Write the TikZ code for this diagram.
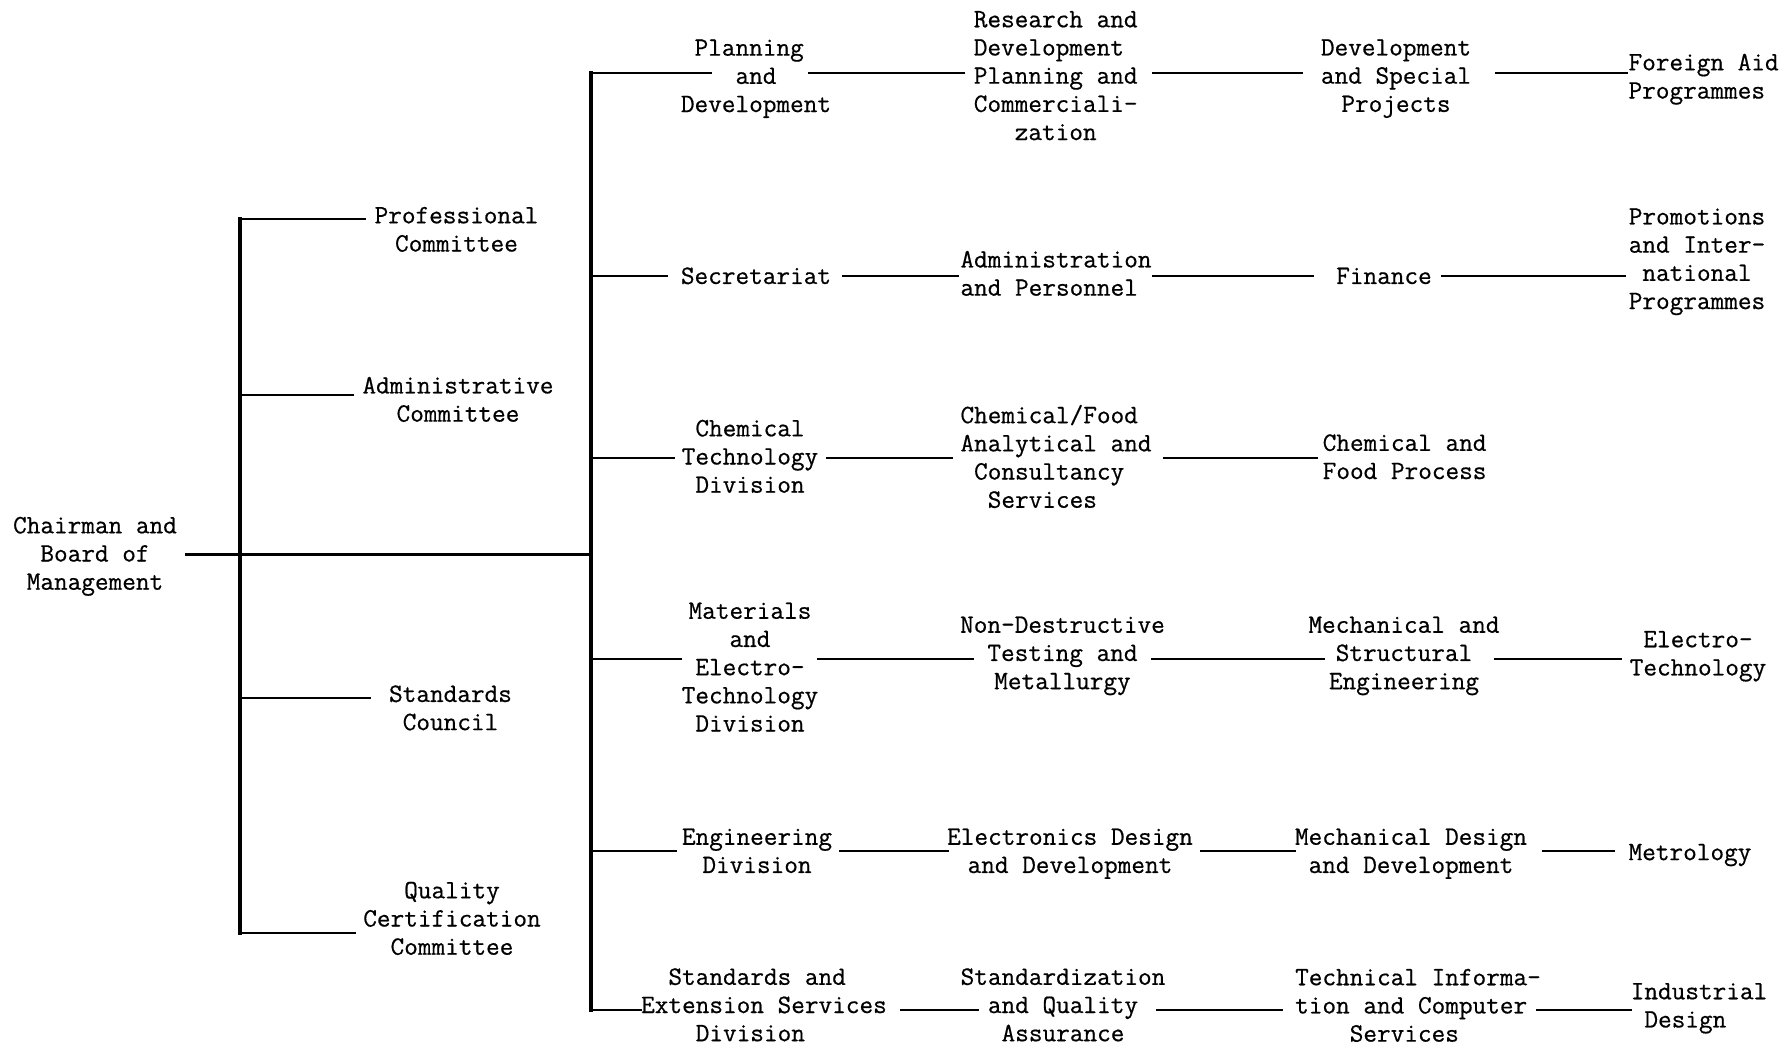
\documentclass[tikz,border=0pt]{standalone}
\usepackage{fontspec}
\newfontfamily\typewriter{Latin Modern Mono}[RawFeature={embolden=0.6}]
\usetikzlibrary{calc}
\begin{document}
\begin{tikzpicture}[x=1pt,y=-1pt,
  unit/.style={font=\typewriter\fontsize{26.5}{28.2}\selectfont, inner sep=0pt,
    align=center, yshift=-4.5pt,
    execute at begin node=\strut, execute at end node=\strut},
  unitl/.style={unit, align=left},
  link/.style={line width=2.4pt, line cap=rect},
  bar/.style={line width=3.2pt, line cap=rect}]
\useasboundingbox (0,0) rectangle (1789,1044);

% junctions on the two vertical bars
\coordinate (lb1) at (240,219);
\coordinate (lb2) at (240,933);
\coordinate (rc)  at (591,554.5);
\coordinate (r1)  at (591,73);
\coordinate (r2)  at (591,276);
\coordinate (r3)  at (591,458);
\coordinate (r4)  at (591,659);
\coordinate (r5)  at (591,851);
\coordinate (r6)  at (591,1010);

% board and committees
\node[unit] (chair) at (95,553) {Chairman and\\Board of\\Management};
\node[unit] (prof)  at (456.5,229) {Professional\\Committee};
\node[unit] (admin) at (458,399) {Administrative\\Committee};
\node[unit] (stdc)  at (450.5,707.5) {Standards\\Council};
\node[unit] (qcc)   at (452,918) {Quality\\Certification\\Committee};

% row 1
\node[unitl] (pd)  at (756,75.5) {\hphantom{x}Planning\\\hphantom{xxxx}and\\Development};
\node[unitl] (rd)  at (1055.7,75.3) {Research and\\Development\\Planning and\\Commerciali-\\\hphantom{xxx}zation};
\node[unit]  (dsp) at (1396,75.3) {Development\\and Special\\Projects};
\node[unitl] (fap) at (1703.6,75.9) {Foreign Aid\\Programmes};

% row 2
\node[unit]  (sec) at (756,273.8) {Secretariat};
\node[unitl] (ap)  at (1056,273) {Administration\\and Personnel};
\node[unit]  (fin) at (1384,273.8) {Finance};
\node[unit]  (pip) at (1697,258.4) {Promotions\\and Inter-\\national\\Programmes};

% row 3
\node[unit]  (ctd) at (750,456) {Chemical\\Technology\\Division};
\node[unitl] (cfa) at (1056,456) {Chemical/Food\\Analytical and\\\hphantom{x}Consultancy\\\hphantom{xx}Services};
\node[unit]  (cfp) at (1404.6,456.4) {Chemical and\\Food Process};

% row 4
\node[unit] (met) at (750,666.8) {Materials\\and\\Electro-\\Technology\\Division};
\node[unit] (ndt) at (1062.5,652.6) {Non-Destructive\\Testing and\\Metallurgy};
\node[unit] (mse) at (1404,652.6) {Mechanical and\\Structural\\Engineering};
\node[unit] (et)  at (1698,653) {Electro-\\Technology};

% row 5
\node[unit] (eng)  at (757,850.5) {Engineering\\Division};
\node[unit] (edd)  at (1070,850.5) {Electronics Design\\and Development};
\node[unit] (mdd)  at (1411,850.5) {Mechanical Design\\and Development};
\node[unit] (metr) at (1690,850) {Metrology};

% row 6
\node[unitl] (sesd) at (764,1004.5) {\hphantom{xx}Standards and\\Extension Services\\\hphantom{xxxx}Division};
\node[unit]  (sqa)  at (1063,1004.5) {Standardization\\and Quality\\Assurance};
\node[unitl] (tics) at (1418,1005) {Technical Informa-\\tion and Computer\\\hphantom{xxxx}Services};
\node[unitl] (id)   at (1699,1005) {Industrial\\\hphantom{x}Design};

% vertical bars
\draw[bar] (lb1) -- (lb2);
\draw[bar] (r1) -- (r6);

% board to the division bar, committees off the left bar
\draw[link] ([xshift=9.5pt,yshift=3pt]chair.east) -- (rc);
\draw[link] (lb1) -- ([xshift=-10pt]prof.west |- lb1);
\draw[link] ([yshift=8.7pt]admin.west -| lb1) -- ([xshift=-9.5pt,yshift=8.7pt]admin.west);
\draw[link] ([yshift=14pt]stdc.west -| lb1) -- ([xshift=-19.5pt,yshift=14pt]stdc.west);
\draw[link] (lb2) -- ([xshift=-8pt]qcc.west |- lb2);

% row 1
\draw[link] (r1) -- ([xshift=30pt]pd.west |- r1);
\draw[link] ([xshift=-22.5pt]pd.east |- r1) -- ([xshift=-10pt]rd.west |- r1);
\draw[link] ([xshift=15.6pt]rd.east |- r1) -- ([xshift=-19pt]dsp.west |- r1);
\draw[link] ([xshift=24.5pt]dsp.east |- r1) -- ([xshift=-2pt]fap.west |- r1);

% row 2
\draw[link] (r2) -- ([xshift=-13.5pt]sec.west |- r2);
\draw[link] ([xshift=11.5pt]sec.east |- r2) -- ([xshift=-2.5pt]ap.west |- r2);
\draw[link] ([xshift=1pt]ap.east |- r2) -- ([xshift=-23pt]fin.west |- r2);
\draw[link] ([xshift=10pt]fin.east |- r2) -- ([xshift=-4pt]pip.west |- r2);

% row 3
\draw[link] (r3) -- ([xshift=-7.5pt]ctd.west |- r3);
\draw[link] ([xshift=8.5pt]ctd.east |- r3) -- ([xshift=-8.5pt]cfa.west |- r3);
\draw[link] ([xshift=12.5pt]cfa.east |- r3) -- ([xshift=-5.5pt]cfp.west |- r3);

% row 4
\draw[link] (r4) -- ([xshift=-1pt]met.west |- r4);
\draw[link] (met.east |- r4) -- ([xshift=13pt]ndt.west |- r4);
\draw[link] ([xshift=-12.4pt]ndt.east |- r4) -- ([xshift=15.5pt]mse.west |- r4);
\draw[link] ([xshift=-4.5pt]mse.east |- r4) -- ([xshift=-8.5pt]et.west |- r4);

% row 5
\draw[link] (r5) -- ([xshift=-5.5pt]eng.west |- r5);
\draw[link] ([xshift=7.5pt]eng.east |- r5) -- ([xshift=1pt]edd.west |- r5);
\draw[link] ([xshift=8.5pt]edd.east |- r5) -- (mdd.west |- r5);
\draw[link] ([xshift=15.5pt]mdd.east |- r5) -- ([xshift=-14.4pt]metr.west |- r5);

% row 6
\draw[link] (r6) -- (sesd.west |- r6);
\draw[link] ([xshift=14.4pt]sesd.east |- r6) -- ([xshift=17pt]sqa.west |- r6);
\draw[link] ([xshift=-8.4pt]sqa.east |- r6) -- ([xshift=-12.8pt]tics.west |- r6);
\draw[link] ([xshift=-4pt]tics.east |- r6) -- (id.west |- r6);
\end{tikzpicture}
\end{document}
